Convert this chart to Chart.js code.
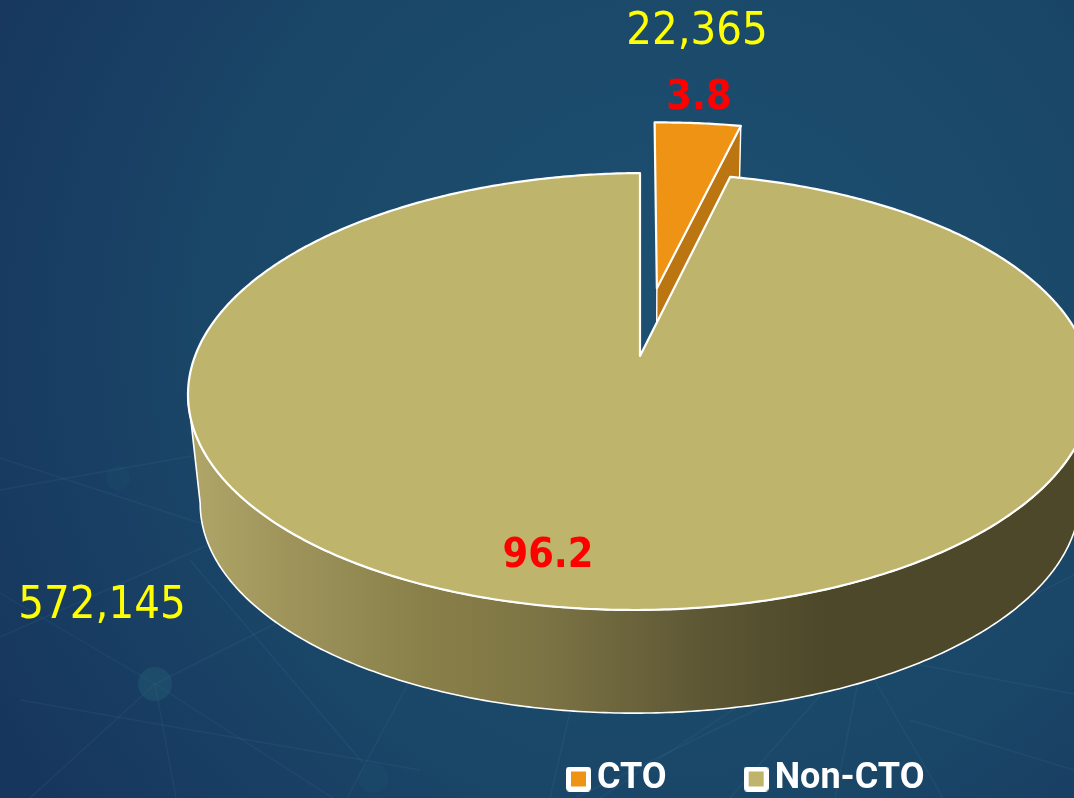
<!DOCTYPE html>
<html><head><meta charset="utf-8">
<style>html,body{margin:0;padding:0;background:#1a4568}#w{width:1074px;height:798px;position:relative;overflow:hidden}canvas{display:block}</style>
<script src="https://cdn.jsdelivr.net/npm/chart.js@4/dist/chart.umd.js"></script>
</head><body><div id="w"><canvas id="c"></canvas></div>
<script>
// ---- data ----
const categories = ['CTO', 'Non-CTO'];
const caseCounts = [22365, 572145];
const countLabels = ['22,365', '572,145'];
const percentLabels = ['3.8', '96.2'];
// ---- style ----
const faceColors = ['#ef9315', '#bfb46b'];
const wallColors = ['#bb7611', '#4d4829'];
const explodeOffsets = [33.8, 0];      // percent of the radius
const countAnchors = [[697, 32], [102, 606]];
const percentAnchors = [[699, 98], [548, 556]];

// perspective view of the pie's disc
const view = {cx: 640, cy: 356, a: 446, b: 212.7, k: 0.1625, shear: 0, tilt: -3, depth: 110, shrink: 0.973};
function project(u, v, lower) {
  const w = 1 - view.k * v, s = lower ? view.shrink : 1;
  return [view.cx + s * (view.a * u + view.shear * v) / w,
          view.cy + (lower ? view.depth : 0) + s * (view.b * v + view.tilt * u) / w];
}
const rim = (t, ox, oy, lower) => project(ox + Math.sin(t), oy - Math.cos(t), lower);
function trace(ctx, pts, start) {
  pts.forEach((p, i) => (i === 0 && start) ? ctx.moveTo(p[0], p[1]) : ctx.lineTo(p[0], p[1]));
}
function arcPts(t0, t1, ox, oy, lower) {
  const n = Math.max(2, Math.ceil(Math.abs(t1 - t0) / 0.01)), out = [];
  for (let i = 0; i <= n; i++) out.push(rim(t0 + (t1 - t0) * i / n, ox, oy, lower));
  return out;
}

class Arc3D extends Chart.ArcElement {
  static id = 'arc3d';
  draw(ctx) {
    const t0 = this.startAngle + Math.PI / 2, t1 = this.endAngle + Math.PI / 2;
    const o = this.options, mid = (t0 + t1) / 2, d = (o.offset || 0) / 100;
    const ox = d * Math.sin(mid), oy = -d * Math.cos(mid);
    const idx = this.$context ? this.$context.dataIndex : 0;
    ctx.save();
    ctx.lineJoin = 'round';
    ctx.strokeStyle = o.borderColor;
    ctx.lineWidth = o.borderWidth;
    // outer wall, front part only (between the silhouette tangents of the rim)
    const f0 = Math.max(t0, 1.73), f1 = Math.min(t1, 4.55);
    if (f1 > f0 && t1 - t0 > Math.PI) {
      const g = ctx.createLinearGradient(188, 0, 1074, 0);
      g.addColorStop(0, '#b0a668');
      g.addColorStop(0.16, '#978d56');
      g.addColorStop(0.26, '#8a8049');
      g.addColorStop(0.40, '#7c7444');
      g.addColorStop(0.58, '#5d5735');
      g.addColorStop(0.72, wallColors[idx]);
      g.addColorStop(1, wallColors[idx]);
      ctx.beginPath();
      trace(ctx, arcPts(f0, f1, ox, oy, false), true);
      trace(ctx, arcPts(f1, f0, ox, oy, true), false);
      ctx.closePath();
      ctx.fillStyle = g;
      ctx.fill();
      ctx.lineWidth = 1.6;
      ctx.stroke();
      ctx.lineWidth = o.borderWidth;
    }
    // radial wall on the clockwise edge of a small exploded slice
    if (t1 < Math.PI) {
      const a1 = project(ox, oy, false), a2 = project(ox, oy, true);
      const b1 = rim(t1, ox, oy, false), b2 = rim(t1, ox, oy, true);
      ctx.beginPath();
      ctx.moveTo(a1[0], a1[1]); ctx.lineTo(b1[0], b1[1]); ctx.lineTo(b2[0], b2[1]); ctx.lineTo(a2[0], a2[1]);
      ctx.closePath();
      ctx.fillStyle = wallColors[idx];
      ctx.fill();
      ctx.lineWidth = 1.4;
      ctx.stroke();
      ctx.lineWidth = o.borderWidth;
    }
    // top face
    const c = project(ox, oy, false);
    ctx.beginPath();
    ctx.moveTo(c[0], c[1]);
    trace(ctx, arcPts(t0, t1, ox, oy, false), false);
    ctx.closePath();
    ctx.fillStyle = o.backgroundColor;
    ctx.fill();
    ctx.stroke();
    ctx.restore();
  }
}
class Pie3D extends Chart.PieController {
  static id = 'pie3d';
  static defaults = Object.assign({}, Chart.PieController.defaults, {dataElementType: 'arc3d'});
}
Chart.register(Arc3D, Pie3D);

function swatch(color) {
  const s = document.createElement('canvas');
  s.width = 25; s.height = 25;
  const g = s.getContext('2d');
  g.fillStyle = '#ffffff';
  g.beginPath(); g.roundRect(0, 0, 25, 25, 4); g.fill();
  g.fillStyle = color;
  g.fillRect(5, 5, 15, 15);
  return s;
}

const nodes = [[155, 684, 17], [118, 478, 12], [373, 778, 15]];
const nodeAlpha = [0.32, 0.1, 0.12];
const links = [[0,490,192,456],[0,458,200,523],[0,593,155,684],[0,637,213,543],[155,684,277,623],[155,684,30,798],
  [155,684,176,798],[155,684,333,798],[190,560,363,763],[20,700,420,770],[347,798,410,680],[570,712,550,798],
  [910,663,1074,694],[873,677,943,798],[858,682,835,798],[825,690,730,798],[770,703,575,798],[740,705,600,798],
  [910,720,1074,770],[1074,575,1000,612]];
const backdrop = {
  id: 'backdrop',
  beforeDraw(chart) {
    const ctx = chart.ctx, W = chart.width, H = chart.height;
    ctx.save();
    const g = ctx.createRadialGradient(680, 340, 60, 680, 340, 780);
    g.addColorStop(0, '#1d4f70');
    g.addColorStop(0.55, '#1a4768');
    g.addColorStop(1, '#17365e');
    ctx.fillStyle = g;
    ctx.fillRect(0, 0, W, H);
    ctx.strokeStyle = 'rgba(110,160,185,0.09)';
    ctx.lineWidth = 1.4;
    links.forEach(l => { ctx.beginPath(); ctx.moveTo(l[0], l[1]); ctx.lineTo(l[2], l[3]); ctx.stroke(); });
    nodes.forEach((n, i) => {
      ctx.fillStyle = `rgba(40,105,125,${nodeAlpha[i]})`;
      ctx.beginPath(); ctx.arc(n[0], n[1], n[2], 0, 7); ctx.fill();
    });
    ctx.restore();
  }
};
const valueText = {
  id: 'valueText',
  afterDatasetsDraw(chart) {
    const ctx = chart.ctx;
    ctx.save();
    ctx.textAlign = 'center';
    ctx.textBaseline = 'middle';
    ctx.font = '45px "DejaVu Sans Condensed", "DejaVu Sans"';
    ctx.fillStyle = '#ffff00';
    countLabels.forEach((t, i) => ctx.fillText(t, countAnchors[i][0], countAnchors[i][1]));
    ctx.font = 'bold 41px "DejaVu Sans Condensed", "DejaVu Sans"';
    ctx.fillStyle = '#ff0000';
    percentLabels.forEach((t, i) => ctx.fillText(t, percentAnchors[i][0], percentAnchors[i][1]));
    ctx.restore();
  }
};
const legendPlace = {
  id: 'legendPlace',
  afterLayout(chart) {
    const lg = chart.legend, pad = lg.options.labels.padding;
    lg.left = 578 - pad;
    lg.top = 761 - pad;
    lg.bottom = lg.top + lg.height;
  }
};

new Chart(document.getElementById('c'), {
  type: 'pie3d',
  data: {
    labels: categories,
    datasets: [{
      data: caseCounts,
      backgroundColor: faceColors,
      borderColor: '#ffffff',
      borderWidth: 2.2,
      offset: explodeOffsets
    }]
  },
  plugins: [backdrop, legendPlace, valueText],
  options: {
    responsive: true,
    maintainAspectRatio: false,
    animation: false,
    rotation: 0,
    plugins: {
      tooltip: {enabled: false},
      legend: {
        display: true,
        position: 'bottom',
        align: 'start',
        labels: {
          usePointStyle: true,
          pointStyleWidth: 1,
          boxHeight: 25,
          padding: 89,
          color: '#ffffff',
          font: {family: 'Roboto', weight: 'bold', size: 36},
          generateLabels: chart => categories.map((c, i) => ({
            text: c, pointStyle: swatch(faceColors[i]), hidden: false, index: i,
            fillStyle: faceColors[i], strokeStyle: '#ffffff', lineWidth: 0, fontColor: '#ffffff'
          }))
        }
      }
    }
  }
});
</script>
</body></html>
